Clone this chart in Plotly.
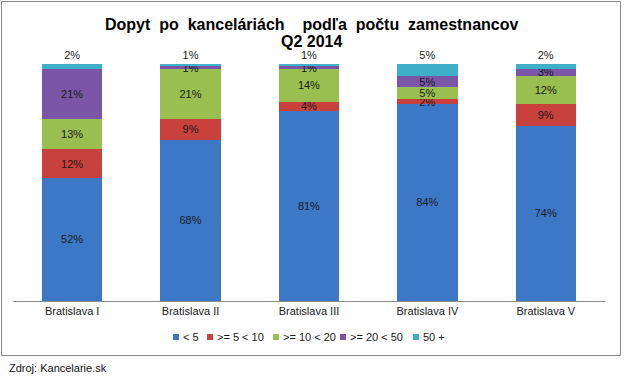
import re
import plotly.graph_objects as go

categories = ["Bratislava I", "Bratislava II", "Bratislava III", "Bratislava IV", "Bratislava V"]
series_names = ["< 5", ">= 5 < 10", ">= 10 < 20", ">= 20 < 50", "50 +"]
lt5 = [52, 68, 81, 84, 74]
s5_10 = [12, 9, 4, 2, 9]
s10_20 = [13, 21, 14, 5, 12]
s20_50 = [21, 1, 1, 5, 3]
s50p = [2, 1, 1, 5, 2]
colors = ["#3d78c6", "#c9413d", "#98bf4f", "#7b56a6", "#3eafc9"]
title_lines = ["Dopyt po kanceláriách  podľa počtu zamestnancov", "Q2 2014"]
source_text = "Zdroj: Kancelarie.sk"

series = [lt5, s5_10, s10_20, s20_50, s50p]

FONT = "Arial, Liberation Sans, sans-serif"
fig = go.Figure()
for i, (name, vals, col) in enumerate(zip(series_names, series, colors)):
    top = i == len(series) - 1
    fig.add_trace(go.Bar(
        x=categories, y=vals, name=name, showlegend=False,
        marker=dict(color=col, line=dict(width=0)),
        text=[f"{v}%" for v in vals],
        textposition="outside" if top else "inside",
        insidetextanchor="middle",
        constraintext="none", textangle=0, cliponaxis=False,
        textfont=dict(family=FONT, size=11, color="#1a1a1a"),
        outsidetextfont=dict(family=FONT, size=11, color="#1a1a1a"),
    ))

# plot area in pixels: x 13..605, y 64..301
L, R, T, B = 13, 605, 64, 301
W, H = 627, 377
pw, ph = R - L, B - T
def px(x):
    return (x - L) / pw
def py(y):
    return (B - y) / ph

shapes = [dict(type="rect", xref="paper", yref="paper",
               x0=px(1.5), x1=px(620.5), y0=py(1.5), y1=py(355.5),
               line=dict(color="#888888", width=1), fillcolor="rgba(0,0,0,0)", layer="below")]
annotations = []

# title (the reference uses wide word spacing)
def widen(s):
    return re.sub(r" +", lambda m: "\u00a0 " * len(m.group(0)), s)

for txt, yc in zip(title_lines, [24, 41]):
    t = widen(txt) if yc == 24 else txt
    annotations.append(dict(text=f"<b>{t}</b>", xref="paper", yref="paper",
                            x=px(311), y=py(yc), xanchor="center", yanchor="middle",
                            showarrow=False, font=dict(size=16, color="black", family=FONT)))

# compact legend (small square keys as in the reference)
legend_x = [173, 207, 273, 340, 413]
legend_y = 337
for name, col, lx in zip(series_names, colors, legend_x):
    shapes.append(dict(type="rect", xref="paper", yref="paper",
                       x0=px(lx), x1=px(lx + 6), y0=py(legend_y + 3), y1=py(legend_y - 3),
                       line=dict(width=0), fillcolor=col))
    annotations.append(dict(text=name, xref="paper", yref="paper",
                            x=px(lx + 8), y=py(legend_y), xanchor="left", yanchor="middle",
                            showarrow=False, font=dict(size=11, color="#1a1a1a", family=FONT)))

annotations.append(dict(text=source_text, xref="paper", yref="paper",
                        x=px(7), y=py(368), xanchor="left", yanchor="middle",
                        showarrow=False, font=dict(size=11, color="#111", family=FONT)))

fig.update_layout(
    barmode="stack", barnorm="percent", bargap=0.49,
    width=W, height=H,
    margin=dict(l=L, r=W - R, t=T, b=H - B, pad=0),
    paper_bgcolor="white", plot_bgcolor="white",
    font=dict(family=FONT, size=11, color="#1a1a1a"),
    showlegend=False,
    xaxis=dict(showline=True, linecolor="#8a8a8a", linewidth=1, ticks="",
               showgrid=False, tickfont=dict(size=11), fixedrange=True),
    yaxis=dict(visible=False, range=[0, 100], showgrid=False, fixedrange=True),
    uniformtext=dict(mode="show", minsize=11),
    shapes=shapes,
    annotations=annotations,
)

fig.write_html("out.html", config={"displayModeBar": False},
               post_script="document.body.style.margin='0';document.body.style.overflow='hidden';")
